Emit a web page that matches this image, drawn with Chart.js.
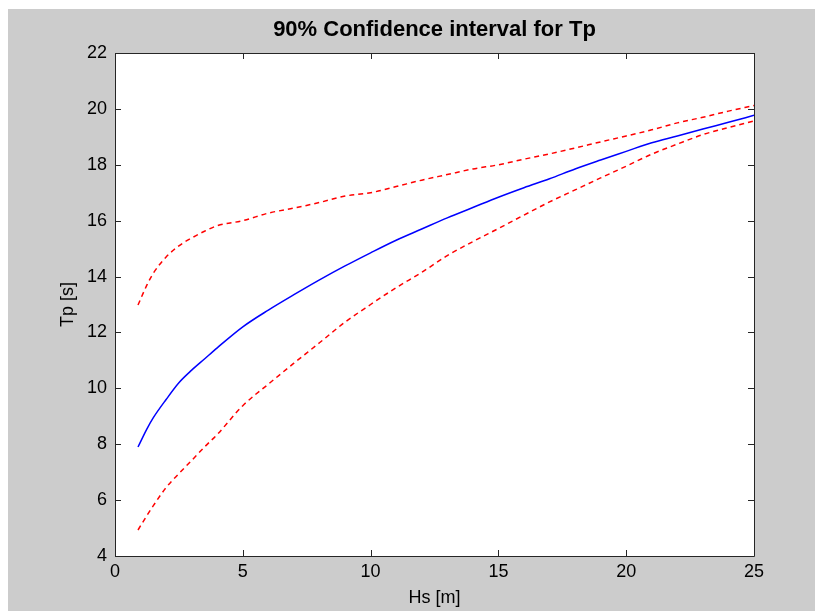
<!DOCTYPE html>
<html>
<head>
<meta charset="utf-8">
<script src="https://cdn.jsdelivr.net/npm/chart.js@4.4.0/dist/chart.umd.min.js"></script>
<style>
html,body{margin:0;padding:0;background:#fff;}
#wrap{position:absolute;left:0;top:0;width:815px;height:611px;}
</style>
</head>
<body>
<div id="wrap"><canvas id="c" width="815" height="611"></canvas></div>
<script>
// Hs [m]
const hs = [0.9,1.25,1.5,2,2.5,3,3.5,4,5,6,7,8,9,10,11,12,13,14,15,16,17,18,19,20,21,22,23,24,25];
// Mean Tp [s]
const tpMean = [7.9,8.55,8.95,9.6,10.2,10.65,11.05,11.45,12.2,12.8,13.35,13.88,14.38,14.85,15.3,15.7,16.1,16.47,16.84,17.18,17.5,17.85,18.17,18.48,18.79,19.03,19.28,19.52,19.77];
// Upper 90% bound
const tpUpper = [12.98,13.7,14.12,14.7,15.1,15.38,15.62,15.82,16.0,16.27,16.45,16.65,16.88,17.0,17.22,17.45,17.65,17.85,18.0,18.2,18.39,18.6,18.82,19.03,19.25,19.5,19.7,19.92,20.12];
// Lower 90% bound
const tpLower = [4.93,5.45,5.8,6.45,6.95,7.42,7.9,8.35,9.38,10.15,10.9,11.63,12.37,13.0,13.6,14.15,14.75,15.25,15.72,16.2,16.67,17.1,17.53,17.95,18.38,18.74,19.08,19.33,19.57];
const xTicks = [0,5,10,15,20,25];
const yTicks = [4,6,8,10,12,14,16,18,20,22];

const toPts = (ys) => hs.map((x, i) => ({x: x, y: ys[i]}));

const frame = {
  id: 'frame',
  beforeDraw(chart) {
    const ctx = chart.ctx, a = chart.chartArea;
    ctx.save();
    ctx.fillStyle = '#ffffff';
    ctx.fillRect(0, 0, chart.width, chart.height);
    ctx.fillStyle = '#cccccc';
    ctx.fillRect(8, 9, chart.width - 8, chart.height - 9);
    ctx.fillStyle = '#ffffff';
    ctx.fillRect(a.left, a.top, a.right - a.left, a.bottom - a.top);
    ctx.restore();
  },
  afterDraw(chart) {
    const ctx = chart.ctx, a = chart.chartArea;
    const xs = chart.scales.x, ys = chart.scales.y;
    const tl = 6;
    ctx.save();
    ctx.strokeStyle = '#262626';
    ctx.lineWidth = 1;
    ctx.beginPath();
    ctx.rect(Math.round(a.left) + 0.5, Math.round(a.top) + 0.5, Math.round(a.right - a.left), Math.round(a.bottom - a.top));
    xTicks.forEach(v => {
      const px = Math.round(xs.getPixelForValue(v)) + 0.5;
      ctx.moveTo(px, a.bottom); ctx.lineTo(px, a.bottom - tl);
      ctx.moveTo(px, a.top); ctx.lineTo(px, a.top + tl);
    });
    yTicks.forEach(v => {
      const py = Math.round(ys.getPixelForValue(v)) + 0.5;
      ctx.moveTo(a.left, py); ctx.lineTo(a.left + tl, py);
      ctx.moveTo(a.right, py); ctx.lineTo(a.right - tl, py);
    });
    ctx.stroke();
    ctx.restore();
  }
};

const tickFont = {family: "'Liberation Sans', Arial, sans-serif", size: 18};

new Chart(document.getElementById('c'), {
  type: 'line',
  data: {
    datasets: [
      {label: 'Mean', data: toPts(tpMean), borderColor: '#0000ff', borderWidth: 1.5, pointRadius: 0, fill: false, cubicInterpolationMode: 'monotone'},
      {label: 'Upper', data: toPts(tpUpper), borderColor: '#ff0000', borderWidth: 1.5, borderDash: [5, 4], pointRadius: 0, fill: false, cubicInterpolationMode: 'monotone'},
      {label: 'Lower', data: toPts(tpLower), borderColor: '#ff0000', borderWidth: 1.5, borderDash: [5, 4], pointRadius: 0, fill: false, cubicInterpolationMode: 'monotone'}
    ]
  },
  options: {
    responsive: false,
    animation: false,
    devicePixelRatio: 1,
    layout: {padding: {left: 0, right: 61, top: 0, bottom: 0}},
    plugins: {
      legend: {display: false},
      tooltip: {enabled: false},
      title: {
        display: true,
        fullSize: false,
        text: '90% Confidence interval for Tp',
        color: '#000',
        font: {family: "'Liberation Sans', Arial, sans-serif", size: 22, weight: 'bold'},
        padding: {top: 17, bottom: 9.6}
      }
    },
    scales: {
      x: {
        type: 'linear', min: 0, max: 25,
        afterBuildTicks(s) { s.ticks = xTicks.map(v => ({value: v})); },
        afterFit(s) { s.height = 55; },
        grid: {display: false, drawTicks: false},
        border: {display: false},
        ticks: {color: '#000', font: tickFont, padding: 5, maxRotation: 0},
        title: {display: true, text: 'Hs [m]', color: '#000', font: tickFont, padding: {top: 2.2, bottom: 2.2}}
      },
      y: {
        type: 'linear', min: 4, max: 22,
        afterBuildTicks(s) { s.ticks = yTicks.map(v => ({value: v})); },
        afterFit(s) { s.width = 115; },
        grid: {display: false, drawTicks: false},
        border: {display: false},
        ticks: {color: '#000', font: tickFont, padding: 8},
        title: {display: true, text: 'Tp [s]', color: '#000', font: tickFont, padding: {top: 57, bottom: 0}}
      }
    }
  },
  plugins: [frame]
});
</script>
</body>
</html>
